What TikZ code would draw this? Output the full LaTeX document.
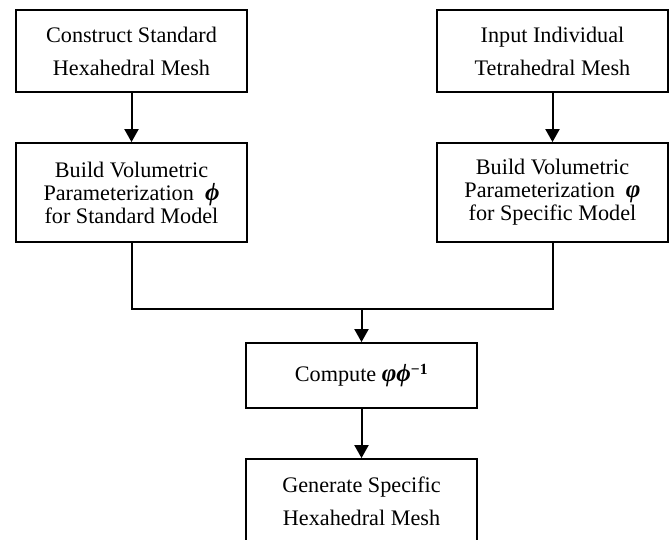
\documentclass[tikz,border=0pt]{standalone}
\usepackage{fontspec}
\setmainfont{Liberation Serif}
\usetikzlibrary{arrows.meta}
\newcommand\stdmap{{\fontsize{25}{25}\selectfont\textbf{\textit{ϕ}}}}
\newcommand\spcmap{{\fontsize{25}{25}\selectfont\textbf{\textit{φ}}}}

\begin{document}
\begin{tikzpicture}[x=1pt, y=1pt,
    flowbox/.style={draw, line width=1.8pt, minimum width=231pt, inner sep=0pt,
      align=center, font=\fontsize{22.2}{33}\selectfont},
    tallbox/.style={flowbox, minimum height=99pt, font=\fontsize{22.2}{23}\selectfont},
    flow/.style={line width=2pt, -{Triangle[length=13pt, width=14pt]}}]
          \useasboundingbox (0, 0) rectangle (672, -540);

          \node [flowbox, minimum height=82pt] (hexmesh) at (131.5, -51) {Construct Standard\\Hexahedral Mesh};
          \node [flowbox, minimum height=82pt] (tetmesh) at (552.5, -51) {Input Individual\\Tetrahedral Mesh};

          \node [tallbox] (stdparam) at (131.5, -192.5) {Build Volumetric\\Parameterization~~\stdmap\\for Standard Model};
          \node [tallbox] (spcparam) at (552.5, -192.5) {Build Volumetric\\Parameterization~~\spcmap\\for Specific Model};

          \node [flowbox, minimum height=65pt] (compose) at (361.5, -375.5) {Compute \spcmap\stdmap\textsuperscript{\textbf{−1}}};
          \node [flowbox, minimum height=84pt] (result) at (361.5, -501) {Generate Specific\\Hexahedral Mesh};

          \coordinate (join) at (361.5, -309);

          \draw [flow] (hexmesh) -- (stdparam);
          \draw [flow] (tetmesh) -- (spcparam);
          \draw [line width=2pt] (stdparam.south) |- (join) -| (spcparam.south);
          \draw [flow] (join) -- (compose);
          \draw [flow] (compose) -- (result);
        \end{tikzpicture}
\end{document}
